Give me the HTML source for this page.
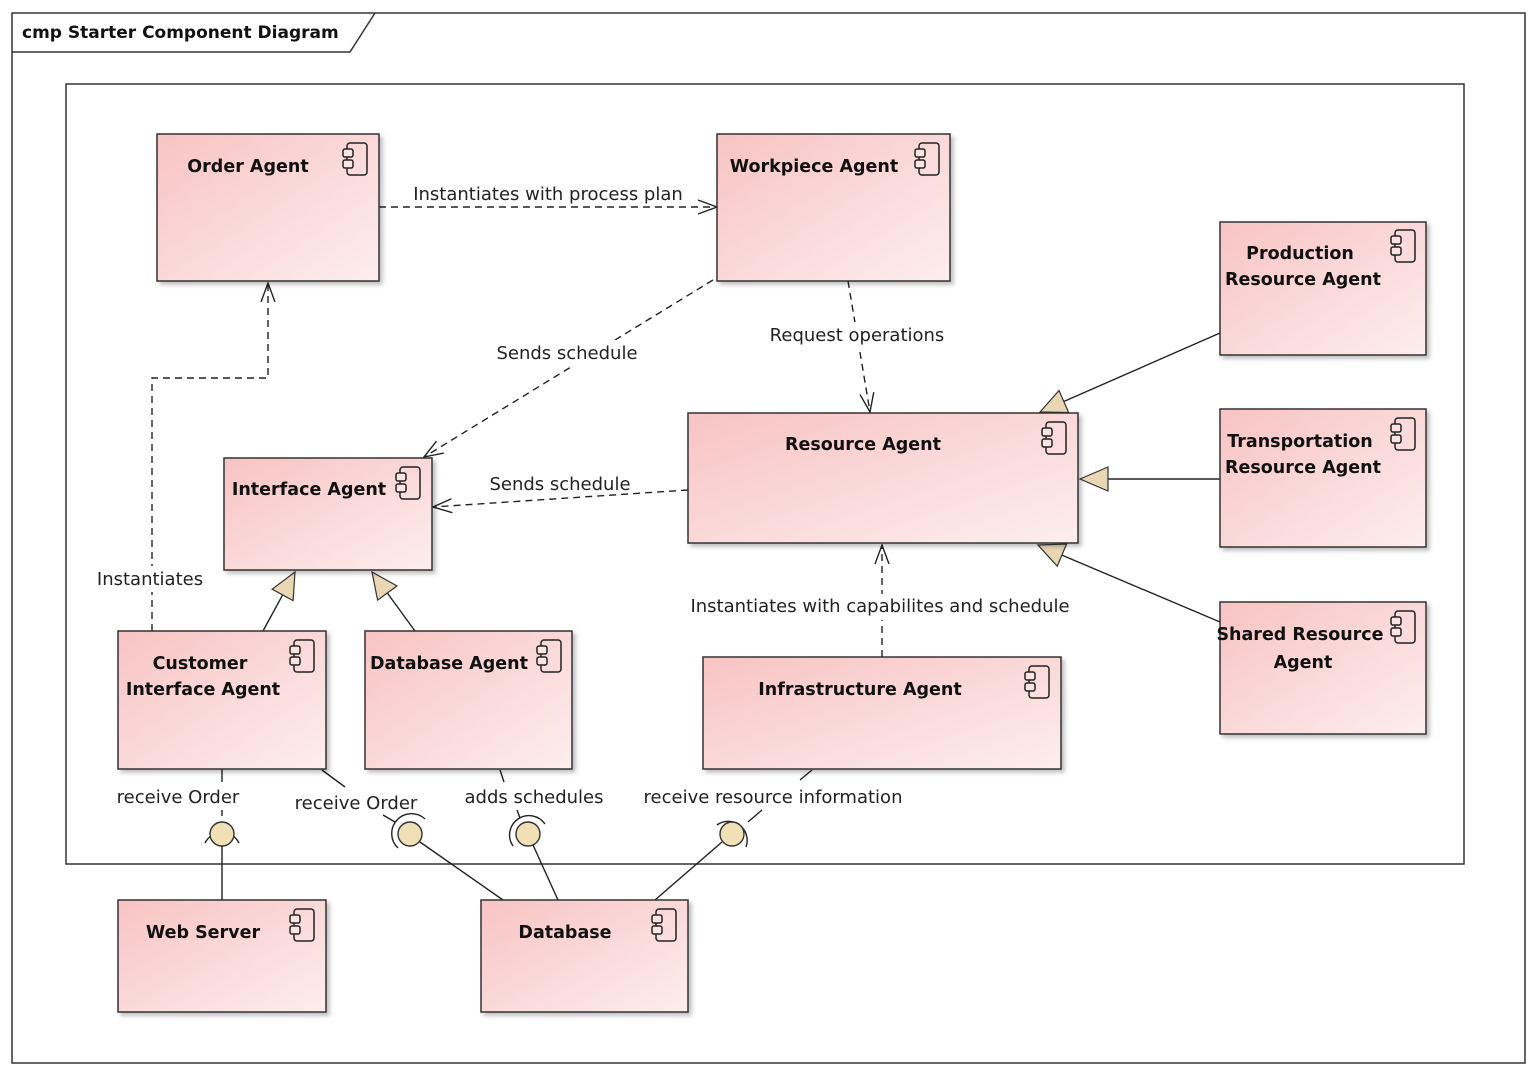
<!DOCTYPE html>
<html><head><meta charset="utf-8"><style>
html,body{margin:0;padding:0;background:#fff}
svg{display:block}
text{font-family:"DejaVu Sans","Liberation Sans",sans-serif;font-size:18px;fill:#222}
.t{font-weight:bold;font-size:17.5px;fill:#111}
.b{fill:url(#g);stroke:#333;stroke-width:1.5;filter:url(#sh)}
.d{stroke:#222;stroke-width:1.4;fill:none;stroke-dasharray:7,5}
.l{stroke:#222;stroke-width:1.4;fill:none}
.tri{fill:#e9d7b4;stroke:#333;stroke-width:1.2}
.ball{fill:#f1dfb5;stroke:#333;stroke-width:1.4}
</style></head><body>
<svg width="1536" height="1074" viewBox="0 0 1536 1074" xmlns="http://www.w3.org/2000/svg">
<defs>
<linearGradient id="g" x1="0" y1="0" x2="1" y2="1"><stop offset="0" stop-color="#f8c3c3"/><stop offset="1" stop-color="#fdeeee"/></linearGradient>
<filter id="sh" x="-10%" y="-10%" width="130%" height="130%"><feDropShadow dx="3" dy="3" stdDeviation="2" flood-color="#000" flood-opacity="0.25"/></filter>
<marker id="a" viewBox="0 0 20 20" refX="19" refY="10" markerWidth="20" markerHeight="20" markerUnits="userSpaceOnUse" orient="auto"><path d="M0,3 L19,10 L0,17" fill="none" stroke="#222" stroke-width="1.4"/></marker>
<g id="ic"><rect x="4" y="0" width="20" height="32" rx="3" fill="none" stroke="#222" stroke-width="1.5"/><rect x="0" y="6" width="10" height="8" rx="2" fill="#fbe3e3" stroke="#222" stroke-width="1.5"/><rect x="0" y="17" width="10" height="8" rx="2" fill="#fbe3e3" stroke="#222" stroke-width="1.5"/></g>
</defs>
<rect x="12" y="13" width="1513" height="1050" fill="none" stroke="#333" stroke-width="1.5"/>
<path d="M12,52 L350,52 L375,13" fill="none" stroke="#333" stroke-width="1.5"/>
<text x="22" y="38" class="t" style="font-size:17px">cmp Starter Component Diagram</text>
<rect x="66" y="84" width="1398" height="780" fill="none" stroke="#333" stroke-width="1.5"/>

<line class="d" x1="379" y1="207" x2="717" y2="207" marker-end="url(#a)"/>
<text x="548" y="200" text-anchor="middle">Instantiates with process plan</text>
<line class="d" x1="713" y1="280" x2="424" y2="457" marker-end="url(#a)"/>
<rect x="490" y="340" width="155" height="26" fill="#fff"/>
<text x="567" y="359" text-anchor="middle">Sends schedule</text>
<line class="d" x1="848" y1="281" x2="870" y2="412" marker-end="url(#a)"/>
<rect x="765" y="322" width="185" height="26" fill="#fff"/>
<text x="857" y="341" text-anchor="middle">Request operations</text>
<line class="d" x1="688" y1="490" x2="433" y2="507" marker-end="url(#a)"/>
<text x="560" y="490" text-anchor="middle">Sends schedule</text>
<polyline class="d" points="152,631 152,378 268,378 268,283" marker-end="url(#a)"/>
<rect x="92" y="566" width="118" height="26" fill="#fff"/>
<text x="150" y="585" text-anchor="middle">Instantiates</text>
<line class="d" x1="882" y1="657" x2="882" y2="545" marker-end="url(#a)"/>
<rect x="680" y="594" width="400" height="26" fill="#fff"/>
<text x="880" y="612" text-anchor="middle">Instantiates with capabilites and schedule</text>

<line class="l" x1="263" y1="631" x2="282.6" y2="594.9"/><polygon class="tri" points="295,572 293.1,600.6 272.1,589.2"/>
<line class="l" x1="415" y1="631" x2="387.3" y2="593"/><polygon class="tri" points="372,572 397,585.9 377.6,600.1"/>
<line class="l" x1="1220" y1="333" x2="1063.8" y2="401.5"/><polygon class="tri" points="1040,412 1068.6,412.5 1059,390.5"/>
<line class="l" x1="1220" y1="479" x2="1108" y2="479"/><polygon class="tri" points="1080,479 1108,467 1108,491"/>
<line class="l" x1="1220" y1="622" x2="1061.9" y2="555.1"/><polygon class="tri" points="1038,545 1066.6,544 1057.2,566.2"/>

<line class="l" x1="222" y1="769" x2="222" y2="782"/>
<text x="178" y="803" text-anchor="middle">receive Order</text>
<line class="l" x1="222" y1="810" x2="222" y2="816"/>
<path class="l" d="M205,843 A19,19 0 0 1 239,843"/>
<circle class="ball" cx="222" cy="834" r="12"/>
<line class="l" x1="222" y1="846" x2="222" y2="900"/>

<line class="l" x1="322" y1="770" x2="345" y2="787"/>
<text x="356" y="809" text-anchor="middle">receive Order</text>
<line class="l" x1="383" y1="815" x2="395" y2="822"/>
<path class="l" d="M398,848 A19,19 0 0 1 425,819"/>
<circle class="ball" cx="410" cy="834" r="12"/>
<line class="l" x1="420" y1="842" x2="503" y2="900"/>

<line class="l" x1="500" y1="770" x2="504" y2="782"/>
<text x="534" y="803" text-anchor="middle">adds schedules</text>
<line class="l" x1="517" y1="810" x2="520" y2="818"/>
<path class="l" d="M513,846 A19,19 0 0 1 545,824"/>
<circle class="ball" cx="528" cy="834" r="12"/>
<line class="l" x1="533" y1="845" x2="558" y2="900"/>

<line class="l" x1="812" y1="770" x2="800" y2="780"/>
<text x="773" y="803" text-anchor="middle">receive resource information</text>
<line class="l" x1="762" y1="810" x2="748" y2="822"/>
<path class="l" d="M717,825 A19,19 0 0 1 746,847"/>
<circle class="ball" cx="732" cy="834" r="12"/>
<line class="l" x1="722" y1="842" x2="655" y2="900"/>

<rect class="b" x="157" y="134" width="222" height="147"/><use href="#ic" x="343" y="143"/>
<text x="248" y="172" class="t" text-anchor="middle">Order Agent</text>
<rect class="b" x="717" y="134" width="233" height="147"/><use href="#ic" x="915" y="143"/>
<text x="814" y="172" class="t" text-anchor="middle">Workpiece Agent</text>
<rect class="b" x="1220" y="222" width="206" height="133"/><use href="#ic" x="1391" y="230"/>
<text x="1300" y="259" class="t" text-anchor="middle">Production</text>
<text x="1303" y="285" class="t" text-anchor="middle">Resource Agent</text>
<rect class="b" x="1220" y="409" width="206" height="138"/><use href="#ic" x="1391" y="418"/>
<text x="1300" y="447" class="t" text-anchor="middle">Transportation</text>
<text x="1303" y="473" class="t" text-anchor="middle">Resource Agent</text>
<rect class="b" x="1220" y="602" width="206" height="132"/><use href="#ic" x="1391" y="611"/>
<text x="1300" y="640" class="t" text-anchor="middle">Shared Resource</text>
<text x="1303" y="668" class="t" text-anchor="middle">Agent</text>
<rect class="b" x="688" y="413" width="390" height="130"/><use href="#ic" x="1042" y="422"/>
<text x="863" y="450" class="t" text-anchor="middle">Resource Agent</text>
<rect class="b" x="224" y="458" width="208" height="112"/><use href="#ic" x="396" y="467"/>
<text x="309" y="495" class="t" text-anchor="middle">Interface Agent</text>
<rect class="b" x="118" y="631" width="208" height="138"/><use href="#ic" x="290" y="640"/>
<text x="200" y="669" class="t" text-anchor="middle">Customer</text>
<text x="203" y="695" class="t" text-anchor="middle">Interface Agent</text>
<rect class="b" x="365" y="631" width="207" height="138"/><use href="#ic" x="537" y="640"/>
<text x="449" y="669" class="t" text-anchor="middle">Database Agent</text>
<rect class="b" x="703" y="657" width="358" height="112"/><use href="#ic" x="1025" y="666"/>
<text x="860" y="695" class="t" text-anchor="middle">Infrastructure Agent</text>
<rect class="b" x="118" y="900" width="208" height="112"/><use href="#ic" x="290" y="909"/>
<text x="203" y="938" class="t" text-anchor="middle">Web Server</text>
<rect class="b" x="481" y="900" width="207" height="112"/><use href="#ic" x="652" y="909"/>
<text x="565" y="938" class="t" text-anchor="middle">Database</text>
</svg>
</body></html>
